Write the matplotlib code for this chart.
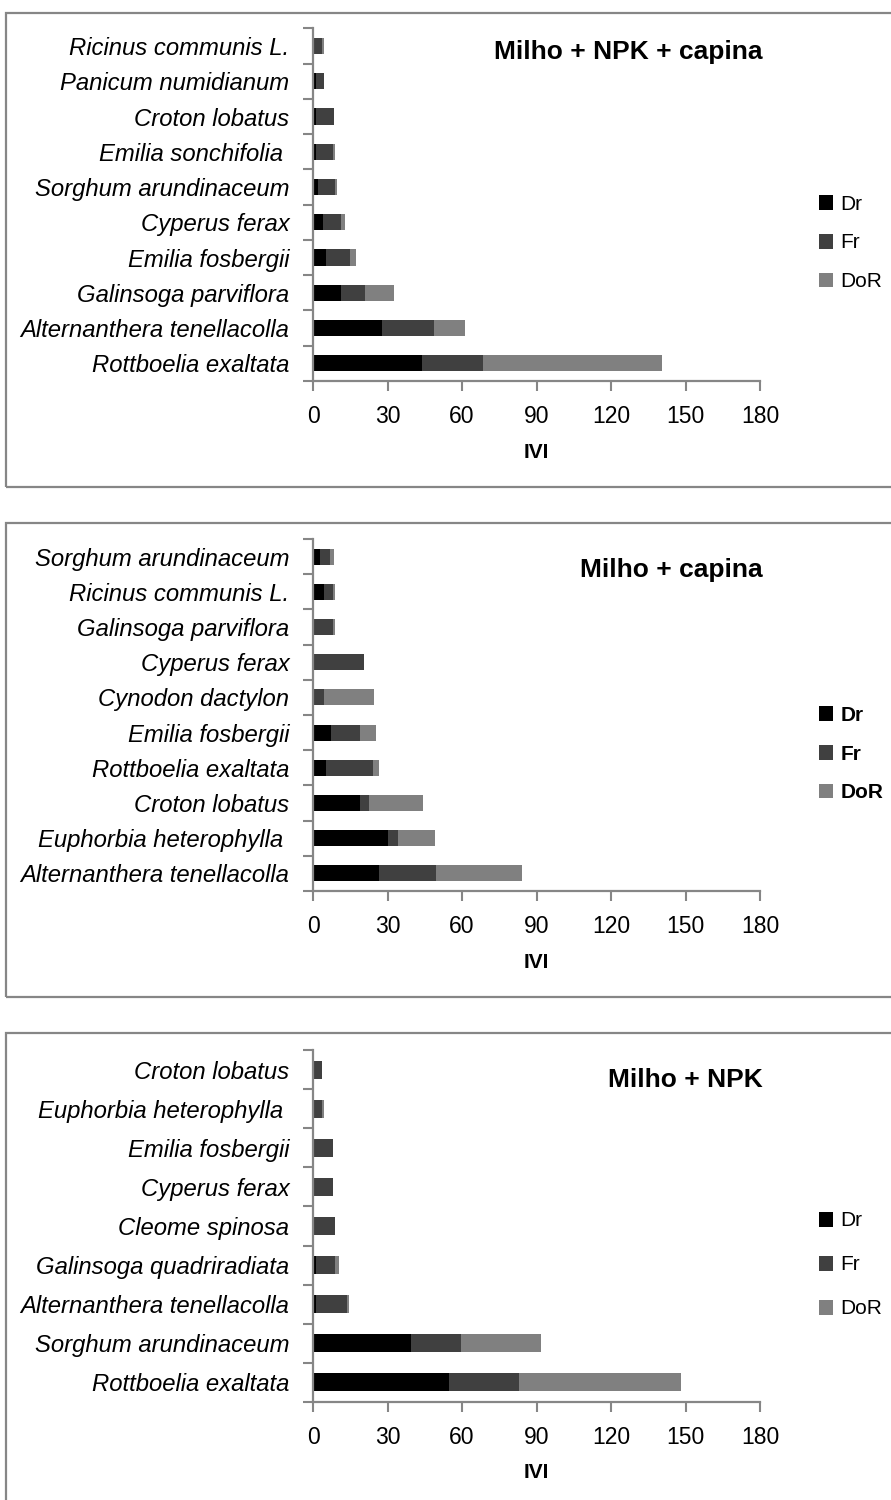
import numpy as np
import matplotlib.pyplot as plt
from matplotlib.patches import Rectangle

plt.rcParams['font.family'] = ['Liberation Sans', 'DejaVu Sans']

# panel 1: Milho + NPK + capina (bottom -> top)
cats1 = ["Rottboelia exaltata", "Alternanthera tenellacolla", "Galinsoga parviflora",
         "Emilia fosbergii", "Cyperus ferax", "Sorghum arundinaceum",
         "Emilia sonchifolia ", "Croton lobatus", "Panicum numidianum", "Ricinus communis L."]
dr1 = [43.9, 27.8, 11.3, 5.2, 4.0, 2.0, 1.2, 1.1, 1.1, 0.0]
fr1 = [24.6, 20.9, 9.6, 9.7, 7.3, 6.9, 6.9, 7.4, 3.3, 3.8]
dor1 = [71.9, 12.5, 11.7, 2.4, 1.6, 0.8, 0.8, 0.0, 0.0, 0.7]

# panel 2: Milho + capina
cats2 = ["Alternanthera tenellacolla", "Euphorbia heterophylla ", "Croton lobatus",
         "Rottboelia exaltata", "Emilia fosbergii", "Cynodon dactylon", "Cyperus ferax",
         "Galinsoga parviflora", "Ricinus communis L.", "Sorghum arundinaceum"]
dr2 = [26.6, 30.2, 18.9, 5.2, 7.2, 0.0, 0.0, 0.0, 4.4, 2.8]
fr2 = [22.9, 4.0, 3.6, 19.0, 11.7, 4.4, 20.5, 8.1, 3.6, 4.0]
dor2 = [34.7, 14.9, 21.7, 2.4, 6.5, 20.2, 0.0, 0.8, 0.8, 1.6]

# panel 3: Milho + NPK
cats3 = ["Rottboelia exaltata", "Sorghum arundinaceum", "Alternanthera tenellacolla",
         "Galinsoga quadriradiata", "Cleome spinosa", "Cyperus ferax", "Emilia fosbergii",
         "Euphorbia heterophylla ", "Croton lobatus"]
dr3 = [54.8, 39.5, 1.2, 1.2, 0.0, 0.0, 0.0, 0.0, 0.0]
fr3 = [28.2, 20.1, 12.5, 7.7, 8.9, 8.1, 8.1, 3.6, 3.6]
dor3 = [65.2, 32.2, 0.8, 1.6, 0.0, 0.0, 0.0, 0.8, 0.0]

titles = ["Milho + NPK + capina", "Milho + capina", "Milho + NPK"]
series = ["Dr", "Fr", "DoR"]
colors = ["#000000", "#404040", "#808080"]
xticks = [0, 30, 60, 90, 120, 150, 180]

W, H = 891, 1500
fig = plt.figure(figsize=(W / 100, H / 100), dpi=100)


def fx(x):
    return x / W


def fy(y):
    return 1 - y / H


# pixel layout: box top, axes top, axes bottom, title y, legend center y, legend spacing, legend bold
panels = [
    (cats1, dr1, fr1, dor1, 13, 28.4, 381, 52, 243, 0.95, False),
    (cats2, dr2, fr2, dor2, 523, 539, 891, 570, 754, 0.95, True),
    (cats3, dr3, fr3, dor3, 1033, 1050, 1402, 1080, 1265, 1.2, False),
]

gray = "#868686"
for i, (cats, dr, fr, dor, btop, atop, abot, ty, ly, lsp, lbold) in enumerate(panels):
    fig.patches.append(Rectangle((fx(6), fy(btop + 474)), fx(900), 474 / H,
                                 transform=fig.transFigure, fill=False,
                                 edgecolor=gray, linewidth=1.6))
    ax = fig.add_axes([fx(313), fy(abot), fx(760 - 313), (abot - atop) / H])
    y = np.arange(len(cats))
    dr = np.array(dr)
    fr = np.array(fr)
    dor = np.array(dor)
    ax.barh(y, dr, height=0.46, color=colors[0], label=series[0])
    ax.barh(y, fr, left=dr, height=0.46, color=colors[1], label=series[1])
    ax.barh(y, dor, left=dr + fr, height=0.46, color=colors[2], label=series[2])
    ax.set_xlim(0, 180)
    ax.set_ylim(-0.5, len(cats) - 0.5)
    ax.set_xticks(xticks)
    ax.set_xticklabels([str(t) for t in xticks], fontsize=16.5)
    ax.set_yticks(y)
    ax.set_yticklabels(cats, fontsize=17.2, style='italic')
    ax.set_yticks(np.arange(len(cats) + 1) - 0.5, minor=True)
    ax.tick_params(axis='y', which='major', length=0, pad=17)
    ax.tick_params(axis='y', which='minor', length=7, color=gray, width=1.5)
    ax.tick_params(axis='x', length=7, color=gray, width=1.5, pad=10)
    for s in ['top', 'right']:
        ax.spines[s].set_visible(False)
    for s in ['left', 'bottom']:
        ax.spines[s].set_color(gray)
        ax.spines[s].set_linewidth(1.6)
    ax.text(0.5, -71 / (abot - atop), "IVI", transform=ax.transAxes,
            ha='center', va='center', fontsize=15, fontweight='bold')
    fig.text(fx(763), fy(ty), titles[i], ha='right', va='center',
             fontsize=19, fontweight='bold')
    ax.legend(loc='center left', bbox_to_anchor=(fx(800), fy(ly)),
              bbox_transform=fig.transFigure, frameon=False,
              handlelength=0.7, handleheight=0.7, handletextpad=0.35,
              labelspacing=lsp, prop={'weight': 'bold' if lbold else 'normal', 'size': 15})

fig.savefig("out.png", dpi=100)
